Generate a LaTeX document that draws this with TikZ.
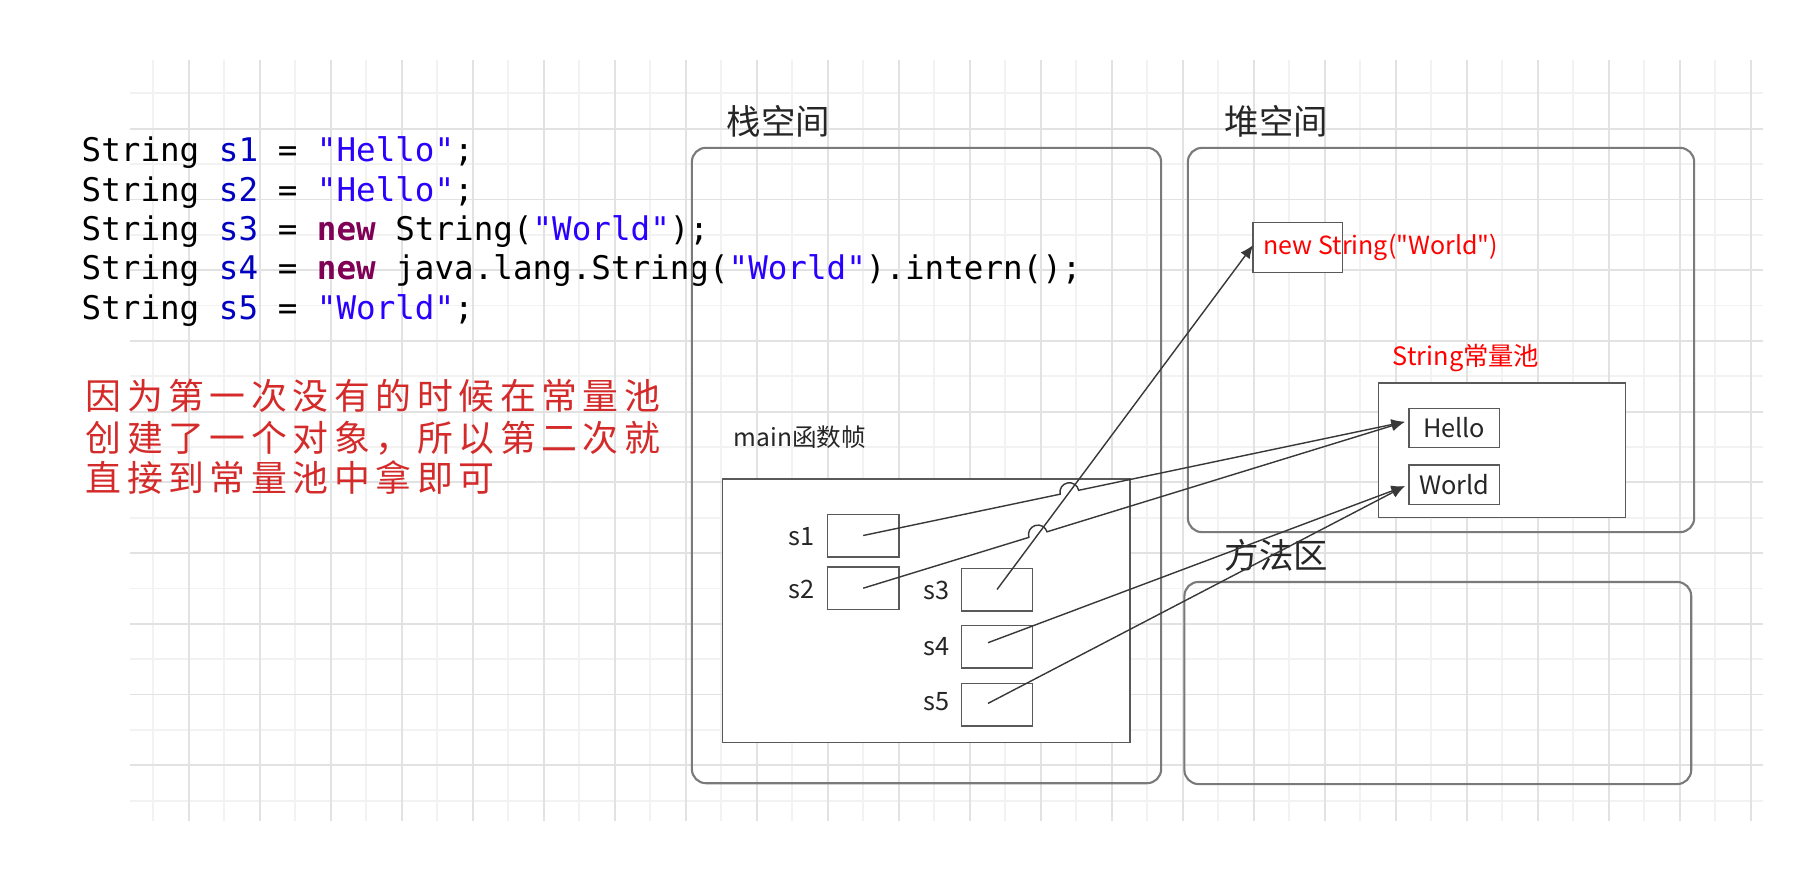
\documentclass[tikz,border=0pt]{standalone}
\usepackage{fontspec}
\setmainfont{Noto Sans CJK SC}
\setmonofont{DejaVu Sans Mono}
\newfontfamily\plainfont{Noto Sans CJK SC}
\newfontfamily\notefont[LetterSpace=15.5]{Noto Sans CJK SC}
\usetikzlibrary{calc,arrows.meta}

\definecolor{gridminor}{HTML}{F2F2F2}
\definecolor{gridmajor}{HTML}{E2E2E2}
\definecolor{javavar}{HTML}{0000C0}
\definecolor{javastr}{HTML}{2A00FF}
\definecolor{javakw}{HTML}{7F0055}
\definecolor{notered}{HTML}{D42A2A}
\definecolor{boxgray}{HTML}{7A7A7A}
\definecolor{linegray}{HTML}{383838}

\newcommand{\kw}[1]{\textcolor{javakw}{\textbf{#1}}}
\newcommand{\jvar}[1]{\textcolor{javavar}{#1}}
\newcommand{\jstr}[1]{\textcolor{javastr}{#1}}

\begin{document}
\begin{tikzpicture}[x=0.01cm, y=-0.01cm]
	\tikzstyle{area}=[rectangle, rounded corners=4pt, draw=boxgray, line width=0.6pt, inner sep=0pt]
	\tikzstyle{cell}=[rectangle, draw=black!65, fill=white, line width=0.45pt, inner sep=0pt]
	\tikzstyle{title}=[inner sep=0pt, font=\fontsize{9.8pt}{11pt}\selectfont, text=black!85]
	\tikzstyle{small}=[inner sep=0pt, font=\fontsize{7.2pt}{8.5pt}\selectfont, text=black!85]
	\tikzstyle{redtxt}=[inner sep=0pt, font=\plainfont\fontsize{7.1pt}{9pt}\selectfont, text=red]
	\tikzstyle{code}=[inner sep=0pt, anchor=base west, font=\ttfamily\fontsize{9.26pt}{11pt}\selectfont]
	\tikzstyle{note}=[inner sep=0pt, anchor=west, font=\notefont\fontsize{10.2pt}{12pt}\selectfont, text=notered]
	\tikzstyle{link}=[draw=linegray, line width=0.4pt, -{Latex[length=3.8pt,width=3.2pt]}]

	\fill[white] (0,0) rectangle (1798,870);
	\useasboundingbox (0,0) rectangle (1798,870);

	% background grid
	\foreach \k in {0,2,...,44} \draw[gridminor, line width=0.5pt] (153.3+35.5*\k,60) -- (153.3+35.5*\k,821);
	\foreach \k in {0,2,...,20} \draw[gridminor, line width=0.5pt] (130,93.3+35.37*\k) -- (1763,93.3+35.37*\k);
	\foreach \k in {1,3,...,45} \draw[gridmajor, line width=0.5pt] (153.3+35.5*\k,60) -- (153.3+35.5*\k,821);
	\foreach \k in {1,3,...,19} \draw[gridmajor, line width=0.5pt] (130,93.3+35.37*\k) -- (1763,93.3+35.37*\k);

	% source code
	\node[code] (line1) at (81,161.7) {String \jvar{s1} = \jstr{"Hello"};};
	\node[code] (line2) at (81,201.1) {String \jvar{s2} = \jstr{"Hello"};};
	\node[code] (line3) at (81,240.5) {String \jvar{s3} = \kw{new} String(\jstr{"World"});};
	\node[code] (line4) at (81,279.9) {String \jvar{s4} = \kw{new} java.lang.String(\jstr{"World"}).intern();};
	\node[code] (line5) at (81,319.3) {String \jvar{s5} = \jstr{"World"};};

	\node[note] (note1) at (85,396) {因为第一次没有的时候在常量池};
	\node[note] (note2) at (85,438) {创建了一个对象，所以第二次就};
	\node[note] (note3) at (85,478) {直接到常量池中拿即可};

	% stack
	\node[area, minimum width=4.69cm, minimum height=6.35cm] (stack) at (926.5,465.5) {};
	\node[title, anchor=west] (stacktitle) at (726,121) {栈空间};
	\node[cell, minimum width=4.07cm, minimum height=2.633cm] (mainframe) at (926.2,610.6) {};
	\node[small, anchor=west, font=\fontsize{7pt}{8.5pt}\selectfont] (frametitle) at (733,437) {main函数帧};

	\node[cell, minimum width=0.71cm, minimum height=0.424cm] (s1) at (863.2,535.5) {};
	\node[cell, minimum width=0.71cm, minimum height=0.424cm] (s2) at (863.2,588.2) {};
	\node[cell, minimum width=0.71cm, minimum height=0.424cm] (s3) at (997,589.5) {};
	\node[cell, minimum width=0.71cm, minimum height=0.424cm] (s4) at (997,646.7) {};
	\node[cell, minimum width=0.71cm, minimum height=0.424cm] (s5) at (997,704.9) {};
	\node[small, anchor=east] (s1name) at (815,537) {s1};
	\node[small, anchor=east] (s2name) at (815,589) {s2};
	\node[small, anchor=east] (s3name) at (950,590) {s3};
	\node[small, anchor=east] (s4name) at (950,647) {s4};
	\node[small, anchor=east] (s5name) at (950,702) {s5};

	% heap
	\node[area, minimum width=5.06cm, minimum height=3.84cm] (heap) at (1441,340) {};
	\node[title, anchor=west] (heaptitle) at (1224,121) {堆空间};
	\node[cell, minimum width=0.896cm, minimum height=0.496cm] (newstr) at (1297.8,247.5) {};
	\node[redtxt, anchor=west] (newstrtext) at (1263,247) {new String("World")};
	\node[redtxt, font=\fontsize{7.2pt}{8.5pt}\selectfont] (pooltitle) at (1466,358) {String常量池};
	\node[cell, minimum width=2.466cm, minimum height=1.343cm] (pool) at (1502,450.2) {};
	\node[cell, small, minimum width=0.903cm, minimum height=0.39cm] (hello) at (1454.2,427.8) {Hello};
	\node[cell, small, minimum width=0.903cm, minimum height=0.393cm] (world) at (1454.2,484.7) {World};

	% method area
	\node[area, minimum width=5.065cm, minimum height=2.02cm] (methodarea) at (1437.8,683) {};
	\node[title, anchor=west] (methodtitle) at (1224,555) {方法区};

	% references
	\coordinate (s1out) at (s1.center);
	\coordinate (s2out) at (s2.center);
	\coordinate (s3out) at (s3.center);
	\coordinate (s4out) at ([shift={(-9,-4)}]s4.center);
	\coordinate (s5out) at ([shift={(-9,-1.5)}]s5.center);
	\coordinate (helloin) at ([shift={(-3.4,-6)}]hello.west);
	\coordinate (worldin) at ([shift={(-3.4,1.4)}]world.west);
	\coordinate (newstrin) at ([shift={(1,-2.5)}]newstr.west);
	\coordinate (hop1) at (intersection of s1out--helloin and s3out--newstrin);
	\coordinate (hop2) at (intersection of s2out--helloin and s3out--newstrin);

	\draw[link] (s3out) -- (newstrin);
	\draw[link] let \p1=($(helloin)-(s1out)$), \n1={atan2(\y1,\x1)} in
		(s1out) -- ($(hop1)!2.7pt!(s1out)$) arc[start angle=\n1+180, end angle=\n1, radius=2.7pt] -- (helloin);
	\draw[link] let \p1=($(helloin)-(s2out)$), \n1={atan2(\y1,\x1)} in
		(s2out) -- ($(hop2)!2.7pt!(s2out)$) arc[start angle=\n1+180, end angle=\n1, radius=2.7pt] -- (helloin);
	\draw[link] (s4out) -- (worldin);
	\draw[link] (s5out) -- (worldin);

\end{tikzpicture}
\end{document}
